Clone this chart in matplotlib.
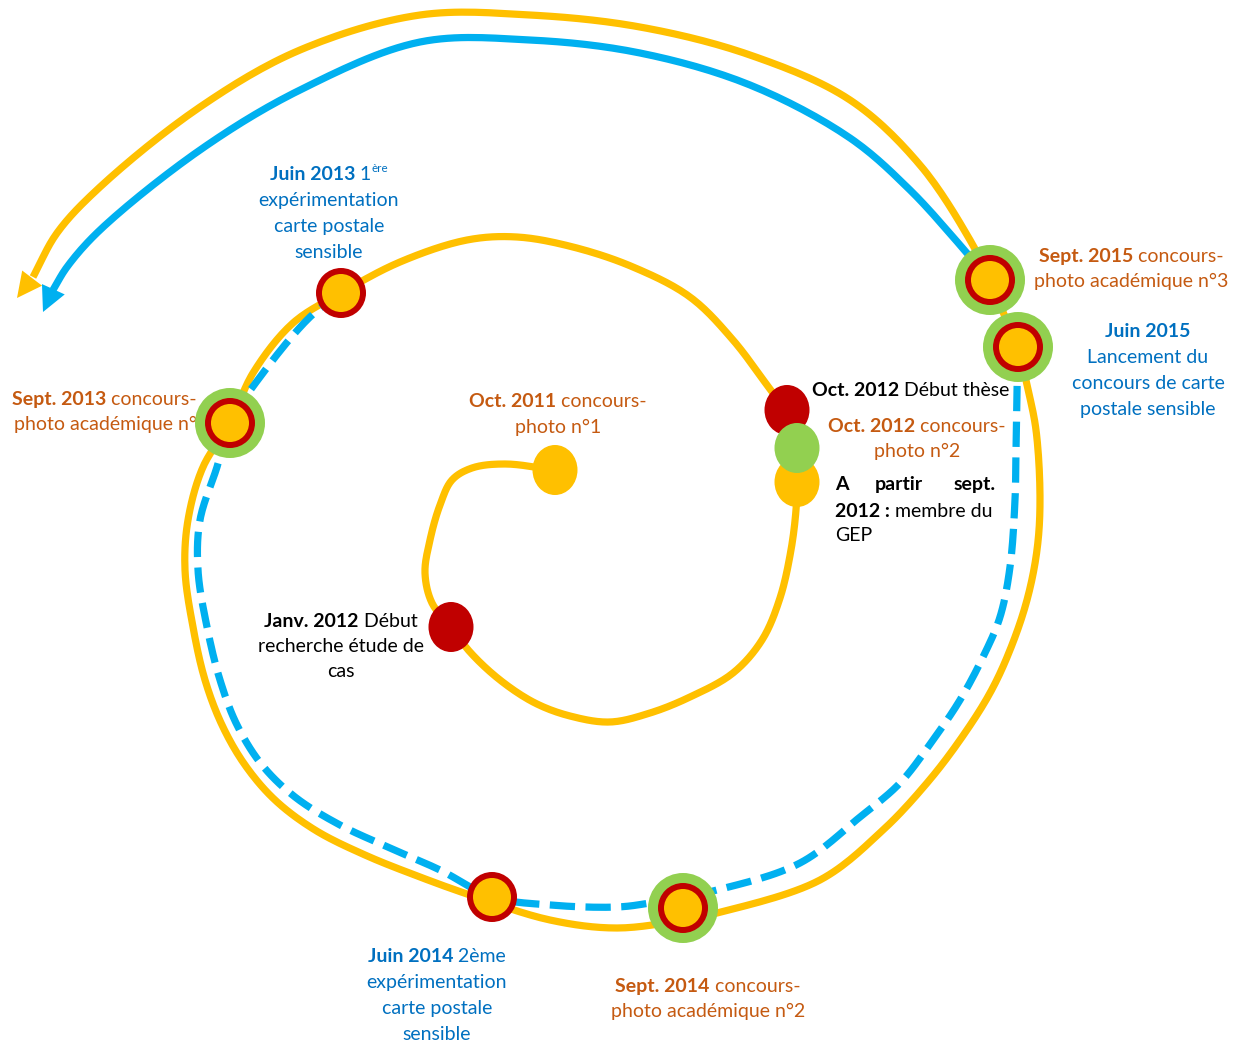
import numpy as np
import matplotlib.pyplot as plt
from matplotlib.patches import Circle, Ellipse, Rectangle

plt.rcParams['font.family'] = ['Lato', 'DejaVu Sans']

W, H = 1243, 1046
FS = 14

YELLOW = "#FFC000"
BLUE = "#00B0F0"
RED = "#C00000"
GREEN = "#92D050"
ORANGE_TXT = "#C55A11"
BLUE_TXT = "#0070C0"

# yellow timeline (picture pixels, y goes down), from Oct. 2011 to the arrow
yellow_x = [555, 505, 472, 452, 440, 430, 425, 432, 451, 470, 500, 535, 570, 610, 650, 690, 733, 762, 780,
            791, 796, 797, 797, 787, 773, 733, 690, 633, 573, 517, 467, 400, 341, 293, 253, 230, 203, 188,
            185, 193, 205, 222, 245, 275, 315, 365, 420, 470, 550, 617, 683, 717, 820, 883, 927, 960, 990,
            1010, 1027, 1037, 1040, 1036, 1027, 1018, 1003, 990, 970, 920, 850, 750, 640, 530, 420, 300,
            200, 100, 57, 33]
yellow_y = [470, 464, 468, 480, 505, 540, 573, 603, 627, 652, 680, 703, 716, 722, 713, 697, 673, 640, 598,
            550, 510, 482, 448, 410, 393, 340, 297, 267, 247, 237, 240, 262, 293, 323, 373, 423, 467, 520,
            570, 627, 680, 725, 765, 800, 830, 855, 877, 895, 920, 928, 920, 913, 880, 830, 783, 740, 693,
            650, 600, 550, 500, 430, 385, 347, 312, 280, 240, 165, 100, 55, 27, 15, 15, 50,
            107, 187, 233, 277]
yellow_tip = (17, 298)

# blue dashed part: Juin 2013 -> Juin 2015
blue_dash_x = [341, 310, 263, 230, 217, 200, 198, 207, 220, 237, 262, 295, 340, 390, 440, 492, 550, 617,
               650, 717, 800, 860, 900, 933, 960, 983, 1000, 1010, 1015, 1016, 1017, 1017, 1003]
blue_dash_y = [293, 317, 373, 423, 467, 520, 570, 627, 680, 725, 765, 797, 825, 848, 870, 897, 905, 907,
               903, 890, 863, 817, 783, 740, 700, 657, 617, 567, 500, 450, 390, 347, 312]

# blue solid part: Sept. 2015 -> arrow
blue_x = [990, 960, 910, 850, 750, 640, 530, 420, 300, 200, 100, 67, 53]
blue_y = [280, 245, 190, 138, 85, 53, 40, 42, 90, 150, 230, 267, 290]
blue_tip = (43, 312)

# plain dots: (x, y, colour)
dots = [(555, 470, YELLOW), (451, 627, RED), (787, 410, RED), (797, 482, YELLOW), (797, 448, GREEN)]
# ringed markers: (x, y, with green halo)
rings = [(341, 293, False), (230, 423, True), (492, 897, False), (683, 908, True),
         (1018, 347, True), (990, 280, True)]


def smooth(xs, ys, n=16, alpha=0.5):
    # centripetal Catmull-Rom through the control points
    p = np.column_stack([xs, ys]).astype(float)
    p = np.vstack([2 * p[0] - p[1], p, 2 * p[-1] - p[-2]])
    out = []
    for i in range(1, len(p) - 2):
        p0, p1, p2, p3 = p[i - 1], p[i], p[i + 1], p[i + 2]
        t0 = 0.0
        t1 = t0 + np.linalg.norm(p1 - p0) ** alpha + 1e-9
        t2 = t1 + np.linalg.norm(p2 - p1) ** alpha + 1e-9
        t3 = t2 + np.linalg.norm(p3 - p2) ** alpha + 1e-9
        t = np.linspace(t1, t2, n, endpoint=False)[:, None]
        a1 = (t1 - t) / (t1 - t0) * p0 + (t - t0) / (t1 - t0) * p1
        a2 = (t2 - t) / (t2 - t1) * p1 + (t - t1) / (t2 - t1) * p2
        a3 = (t3 - t) / (t3 - t2) * p2 + (t - t2) / (t3 - t2) * p3
        b1 = (t2 - t) / (t2 - t0) * a1 + (t - t0) / (t2 - t0) * a2
        b2 = (t3 - t) / (t3 - t1) * a2 + (t - t1) / (t3 - t1) * a3
        out.append((t2 - t) / (t2 - t1) * b1 + (t - t1) / (t2 - t1) * b2)
    out.append(p[-2][None])
    return np.vstack(out)


fig = plt.figure(figsize=(W / 100, H / 100), dpi=100)
ax = fig.add_axes([0, 0, 1, 1])
ax.set_xlim(0, W)
ax.set_ylim(H, 0)
ax.axis("off")

lw = 5.2
c = smooth(yellow_x, yellow_y)
ax.plot(c[:, 0], c[:, 1], color=YELLOW, lw=lw, solid_capstyle="butt", solid_joinstyle="round", zorder=2)
ax.annotate("", xy=yellow_tip, xytext=(yellow_x[-1], yellow_y[-1]),
            arrowprops=dict(arrowstyle="-|>,head_length=1.0,head_width=0.5", mutation_scale=18,
                            color=YELLOW, lw=0, shrinkA=0, shrinkB=0), zorder=2)

c = smooth(blue_dash_x, blue_dash_y)
ax.plot(c[:, 0], c[:, 1], color=BLUE, lw=lw, dashes=(3.5, 1.45), dash_capstyle="butt", zorder=3)
c = smooth(blue_x, blue_y)
ax.plot(c[:, 0], c[:, 1], color=BLUE, lw=lw, solid_capstyle="butt", solid_joinstyle="round", zorder=3)
ax.annotate("", xy=blue_tip, xytext=(blue_x[-1], blue_y[-1]),
            arrowprops=dict(arrowstyle="-|>,head_length=1.0,head_width=0.5", mutation_scale=18,
                            color=BLUE, lw=0, shrinkA=0, shrinkB=0), zorder=3)

for x, y, col in dots:
    ax.add_patch(Ellipse((x, y), 45, 50, color=col, lw=0, zorder=5))
for x, y, halo in rings:
    if halo:
        ax.add_patch(Circle((x, y), 35, color=GREEN, lw=0, zorder=5))
    ax.add_patch(Circle((x, y), 25, color=RED, lw=0, zorder=5))
    ax.add_patch(Circle((x, y), 19, color=YELLOW, lw=0, zorder=5))

renderer = fig.canvas.get_renderer()


def rich(x, y, parts, color, ha="center", clip=None):
    items = []
    for p in parts:
        s, w = p[0], p[1]
        sc = p[2] if len(p) > 2 else 1.0
        dy = p[3] if len(p) > 3 else 0
        t = ax.text(0, 0, s, fontsize=FS * sc, fontweight=w, color=color, va="baseline", ha="left", zorder=4)
        if clip is not None:
            t.set_clip_path(clip)
        items.append((t, t.get_window_extent(renderer).width, dy))
    total = sum(i[1] for i in items)
    x0 = {"center": x - total / 2, "left": x, "right": x - total}[ha]
    for t, wd, dy in items:
        t.set_position((x0, y + dy))
        x0 += wd


B, N = "bold", "normal"
# Juin 2013
rich(329, 180, [("Juin 2013", B), (" 1", N), ("ère", N, 0.6, -8)], BLUE_TXT)
rich(329, 206, [("expérimentation", N)], BLUE_TXT)
rich(329, 232, [("carte postale", N)], BLUE_TXT)
rich(329, 258, [("sensible", N)], BLUE_TXT)
# Sept. 2013
rich(104, 405, [("Sept. 2013", B), (" concours-", N)], ORANGE_TXT)
rich(111, 430, [("photo académique n°1", N)], ORANGE_TXT)
# Oct. 2011
rich(558, 407, [("Oct. 2011", B), (" concours-", N)], ORANGE_TXT)
rich(558, 433, [("photo n°1", N)], ORANGE_TXT)
# Janv. 2012
rich(341, 627, [("Janv. 2012", B), (" Début", N)], "black")
rich(341, 652, [("recherche étude de", N)], "black")
rich(341, 677, [("cas", N)], "black")
# Oct. 2012
rich(812, 396, [("Oct. 2012", B), (" Début thèse", N)], "black", ha="left")
rich(917, 432, [("Oct. 2012", B), (" concours-", N)], ORANGE_TXT)
rich(917, 457, [("photo n°2", N)], ORANGE_TXT)
rich(835, 490, [("A", B)], "black", ha="left")
rich(899, 490, [("partir", B)], "black")
rich(996, 490, [("sept.", B)], "black", ha="right")
rich(835, 517, [("2012 :", B), (" membre du", N)], "black", ha="left")
rich(835, 541, [("GEP", N)], "black", ha="left")
# Sept. 2015
rich(1131, 262, [("Sept. 2015", B), (" concours-", N)], ORANGE_TXT)
rich(1131, 287, [("photo académique n°3", N)], ORANGE_TXT)
# Juin 2015
box = Rectangle((1050, 300), 193, 118, transform=ax.transData)
rich(1148, 337, [("Juin 2015", B)], BLUE_TXT)
rich(1148, 363, [("Lancement du", N)], BLUE_TXT)
rich(1148, 389, [("concours de carte", N)], BLUE_TXT)
rich(1148, 415, [("postale sensible", N)], BLUE_TXT, clip=box)
# Juin 2014
rich(437, 962, [("Juin 2014", B), (" 2ème", N)], BLUE_TXT)
rich(437, 988, [("expérimentation", N)], BLUE_TXT)
rich(437, 1014, [("carte postale", N)], BLUE_TXT)
rich(437, 1040, [("sensible", N)], BLUE_TXT)
# Sept. 2014
rich(708, 992, [("Sept. 2014", B), (" concours-", N)], ORANGE_TXT)
rich(708, 1017, [("photo académique n°2", N)], ORANGE_TXT)

fig.savefig("out.png", dpi=100)
